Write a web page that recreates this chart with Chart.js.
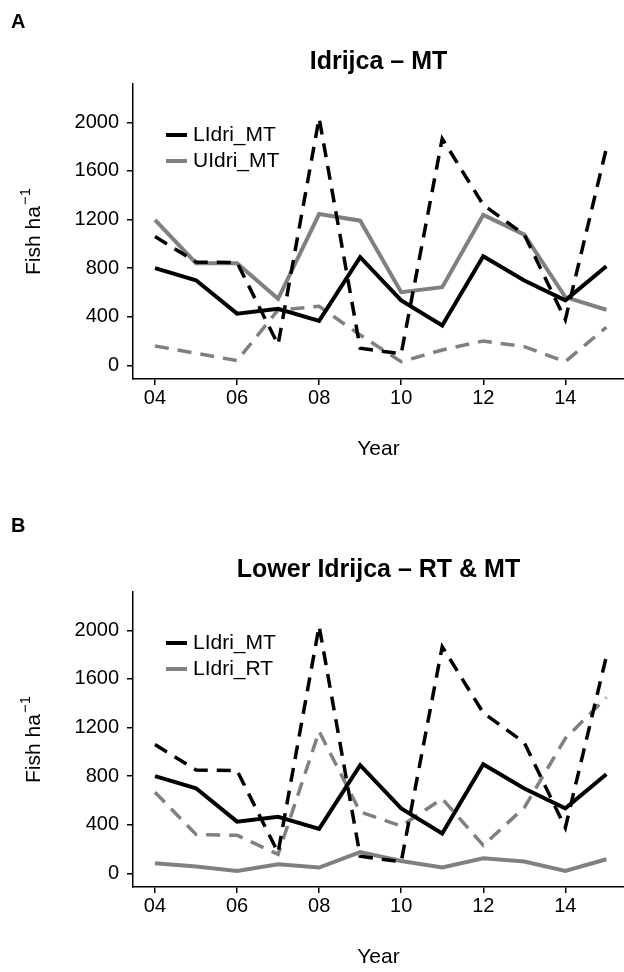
<!DOCTYPE html>
<html>
<head>
<meta charset="utf-8">
<script src="https://cdn.jsdelivr.net/npm/chart.js@4.4.0/dist/chart.umd.min.js"></script>
<style>
  body { margin: 0; background: #fff; width: 624px; height: 972px; position: relative; overflow: hidden; }
  .panel { position: absolute; left: 0; width: 624px; height: 464px; }
</style>
</head>
<body>
<div class="panel" style="top:0"><canvas id="chartA" width="624" height="464"></canvas></div>
<div class="panel" style="top:508px"><canvas id="chartB" width="624" height="464"></canvas></div>
<script>
// years 2004-2015, shown as two digits
const years = [4, 5, 6, 7, 8, 9, 10, 11, 12, 13, 14, 15];
const xTicks = [4, 6, 8, 10, 12, 14];
const yTicks = [0, 400, 800, 1200, 1600, 2000];

// solid lines
const lidriMT = [800, 700, 425, 465, 365, 890, 534, 328, 897, 698, 534, 815];
const uidriMT = [1196, 840, 840, 547, 1245, 1190, 602, 643, 1237, 1075, 561, 457];
const lidriRT = [82, 55, 19, 74, 47, 175, 101, 47, 123, 96, 19, 115];

// dashed lines
const lidriMTDashed = [1059, 850, 845, 170, 2035, 140, 95, 1865, 1320, 1075, 375, 1785];
const uidriMTDashed = [159, 99, 38, 455, 485, 249, 30, 126, 200, 153, 30, 313];
const lidriRTDashed = [667, 320, 312, 156, 1168, 505, 389, 614, 230, 541, 1110, 1446];

const BLACK = '#000000';
const GREY = '#808080';
const FONT = "'Liberation Sans', Arial, sans-serif";

Chart.defaults.font.family = FONT;
Chart.defaults.color = '#000';

function pts(arr) {
    return years.map((x, i) => ({ x: x, y: arr[i] }));
}

function line(label, arr, color, dashed, inLegend) {
    return {
        label: label,
        data: pts(arr),
        borderColor: color,
        borderWidth: dashed ? 3.5 : 4,
        borderDash: dashed ? [14, 9] : [],
        pointRadius: 0,
        tension: 0,
        fill: false,
        inLegend: inLegend
    };
}

// panel letter and y title with a real superscript
const panelText = {
    id: 'panelText',
    afterDraw(chart, args, opts) {
        const { ctx, chartArea } = chart;
        ctx.save();
        ctx.font = 'bold 20px ' + FONT;
        ctx.fillStyle = '#000';
        ctx.textBaseline = 'middle';
        ctx.fillText(opts.letter, 11, opts.letterY);

        const main = 'Fish ha', sup = '\u22121';
        ctx.font = '21px ' + FONT;
        const w1 = ctx.measureText(main).width;
        ctx.font = '15px ' + FONT;
        const w2 = ctx.measureText(sup).width;
        ctx.translate(40, (chartArea.top + chartArea.bottom) / 2);
        ctx.rotate(-Math.PI / 2);
        ctx.textBaseline = 'alphabetic';
        ctx.textAlign = 'left';
        const start = -(w1 + w2 + 1) / 2;
        ctx.font = '21px ' + FONT;
        ctx.fillText(main, start, 0);
        ctx.font = '15px ' + FONT;
        ctx.fillText(sup, start + w1 + 1, -10);
        ctx.restore();
    }
};

const insideLegend = {
    id: 'insideLegend',
    afterDatasetsDraw(chart) {
        const { ctx, chartArea } = chart;
        const items = chart.data.datasets.filter(d => d.inLegend);
        ctx.save();
        items.forEach((d, i) => {
            const y = chartArea.top + 51 + i * 26;
            ctx.beginPath();
            ctx.strokeStyle = d.borderColor;
            ctx.lineWidth = 4;
            ctx.moveTo(chartArea.left + 33, y);
            ctx.lineTo(chartArea.left + 54, y);
            ctx.stroke();
            ctx.font = '21px ' + FONT;
            ctx.fillStyle = '#000';
            ctx.textBaseline = 'middle';
            ctx.fillText(d.label, chartArea.left + 60, y);
        });
        ctx.restore();
    }
};

function makeChart(id, title, datasets, letter, letterY) {
    return new Chart(document.getElementById(id).getContext('2d'), {
        type: 'line',
        data: { datasets: datasets },
        plugins: [panelText, insideLegend],
        options: {
            responsive: false,
            animation: false,
            layout: { padding: 0 },
            plugins: {
                legend: { display: false },
                tooltip: { enabled: false },
                title: {
                    display: true,
                    text: title,
                    fullSize: false,
                    color: '#000',
                    font: { size: 25, weight: 'bold' },
                    padding: { top: 47, bottom: 7 }
                },
                panelText: { letter: letter, letterY: letterY }
            },
            scales: {
                x: {
                    type: 'linear',
                    min: 3.464,
                    max: 15.43,
                    border: { color: '#000', width: 1.5 },
                    grid: { drawOnChartArea: false, drawTicks: true, tickLength: 6, color: '#000', lineWidth: 1.5 },
                    ticks: {
                        font: { size: 20 },
                        color: '#000',
                        padding: 1,
                        maxRotation: 0,
                        autoSkip: false,
                        callback: v => String(v).padStart(2, '0')
                    },
                    afterBuildTicks: s => { s.ticks = xTicks.map(v => ({ value: v })); },
                    afterFit: s => { s.height = 85; },
                    title: {
                        display: true,
                        text: 'Year',
                        color: '#000',
                        font: { size: 21 },
                        padding: { top: 0, bottom: 2 }
                    }
                },
                y: {
                    min: -113,
                    max: 2315,
                    border: { color: '#000', width: 1.5 },
                    grid: { drawOnChartArea: false, drawTicks: true, tickLength: 6, color: '#000', lineWidth: 1.5 },
                    ticks: { font: { size: 20 }, color: '#000', padding: 8, callback: v => String(v) },
                    afterBuildTicks: s => { s.ticks = yTicks.map(v => ({ value: v })); },
                    afterFit: s => { s.width = 133; }
                }
            }
        }
    });
}

makeChart('chartA', 'Idrijca \u2013 MT', [
    line('LIdri_MT (dashed)', lidriMTDashed, BLACK, true, false),
    line('LIdri_MT', lidriMT, BLACK, false, true),
    line('UIdri_MT (dashed)', uidriMTDashed, GREY, true, false),
    line('UIdri_MT', uidriMT, GREY, false, true)
], 'A', 22);

makeChart('chartB', 'Lower Idrijca \u2013 RT & MT', [
    line('LIdri_MT (dashed)', lidriMTDashed, BLACK, true, false),
    line('LIdri_MT', lidriMT, BLACK, false, true),
    line('LIdri_RT (dashed)', lidriRTDashed, GREY, true, false),
    line('LIdri_RT', lidriRT, GREY, false, true)
], 'B', 18.5);
</script>
</body>
</html>
